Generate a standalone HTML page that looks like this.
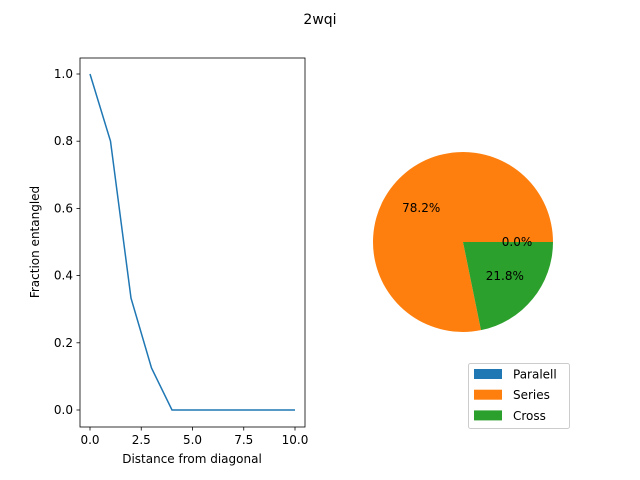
<!DOCTYPE html>
<html><head><meta charset="utf-8"><style>body{margin:0;background:#fff}svg{display:block;font-family:"DejaVu Sans","Liberation Sans",sans-serif}</style></head>
<body>
<svg id="c" width="640" height="480" xmlns="http://www.w3.org/2000/svg">
<text x="320" y="24" text-anchor="middle" font-size="14">2wqi</text>
<rect x="80" y="58" width="225" height="369" fill="none" stroke="#000" stroke-width="0.8"/>
<g id="lineg"></g>
<text x="192" y="463" text-anchor="middle" font-size="12">Distance from diagonal</text>
<text transform="translate(39,242) rotate(-90)" text-anchor="middle" font-size="12">Fraction entangled</text>
<g id="pieg"></g>
<g id="pietext"></g>
<g>
<rect x="468.5" y="363.5" width="101" height="65" rx="2" fill="#fff" stroke="#ccc"/>
<g id="legg"></g>
</g>
</svg>
<script>
const xs=[0,1,2,3,4,5,6,7,8,9,10];
const ys=[1.0,0.8,0.333,0.125,0,0,0,0,0,0,0];
const xTicks=[0,2.5,5,7.5,10];
const xTickLabels=["0.0","2.5","5.0","7.5","10.0"];
const yTicks=[0,0.2,0.4,0.6,0.8,1.0];
const yTickLabels=["0.0","0.2","0.4","0.6","0.8","1.0"];
const pieLabels=["Paralell","Series","Cross"];
const pieValues=[0,78.2,21.8];
const pieColors=["#1f77b4","#ff7f0e","#2ca02c"];
const NS="http://www.w3.org/2000/svg";
const X=v=>90+v*20.5, Y=v=>410-v*336;
function mk(t,a,p){const e=document.createElementNS(NS,t);for(const k in a)e.setAttribute(k,a[k]);p.appendChild(e);return e;}
const lg=document.getElementById('lineg');
xTicks.forEach((t,i)=>{
 const l=mk('line',{x1:X(t),x2:X(t),y1:427,y2:430.5,stroke:'#000','stroke-width':0.8},lg);
 
 
 const s=mk('text',{x:X(t),y:444,'text-anchor':'middle','font-size':12},lg);s.textContent=xTickLabels[i];
 
 
});
yTicks.forEach((t,i)=>{
 const l=mk('line',{x1:76.5,x2:80,y1:Y(t),y2:Y(t),stroke:'#000','stroke-width':0.8},lg);
 
 
 const s=mk('text',{x:73,y:Y(t)+4,'text-anchor':'end','font-size':12},lg);s.textContent=yTickLabels[i];
 
 
});
const pl=mk('polyline',{points:xs.map((x,i)=>X(x)+','+Y(ys[i])).join(' '),fill:'none',stroke:'#1f77b4','stroke-width':1.5},lg);


const pg=document.getElementById('pieg');
const pt=document.getElementById('pietext');
const cx=463,cy=242,R=90;const tot=pieValues.reduce((a,b)=>a+b,0);
let a0=0;
pieValues.forEach((v,i)=>{
 const a1=a0+v/tot*2*Math.PI;
 if(v>0){
  const p=(a)=>[cx+R*Math.cos(a),cy-R*Math.sin(a)];
  const [x0,y0]=p(a0),[x1,y1]=p(a1);
  const large=(a1-a0)>Math.PI?1:0;
  const path=mk('path',{d:`M${cx},${cy} L${x0},${y0} A${R},${R} 0 ${large} 0 ${x1},${y1} Z`,fill:pieColors[i]},pg);
  
  
 }
 const am=(a0+a1)/2;
 const t=mk('text',{x:cx+0.6*R*Math.cos(am),y:cy-0.6*R*Math.sin(am)+4,'text-anchor':'middle','font-size':12},pt);
 t.textContent=(v/tot*100).toFixed(1)+'%';
 
 
 a0=a1;
});
const lgg=document.getElementById('legg');
pieLabels.forEach((n,i)=>{
 const y=374+i*20.7;
 const r=mk('rect',{x:474,y:y-5,width:28,height:10,fill:pieColors[i]},lgg);
 
 
 const t=mk('text',{x:513,y:y+4.5,'font-size':12},lgg);t.textContent=n;
 
 
});
</script>
</body></html>
